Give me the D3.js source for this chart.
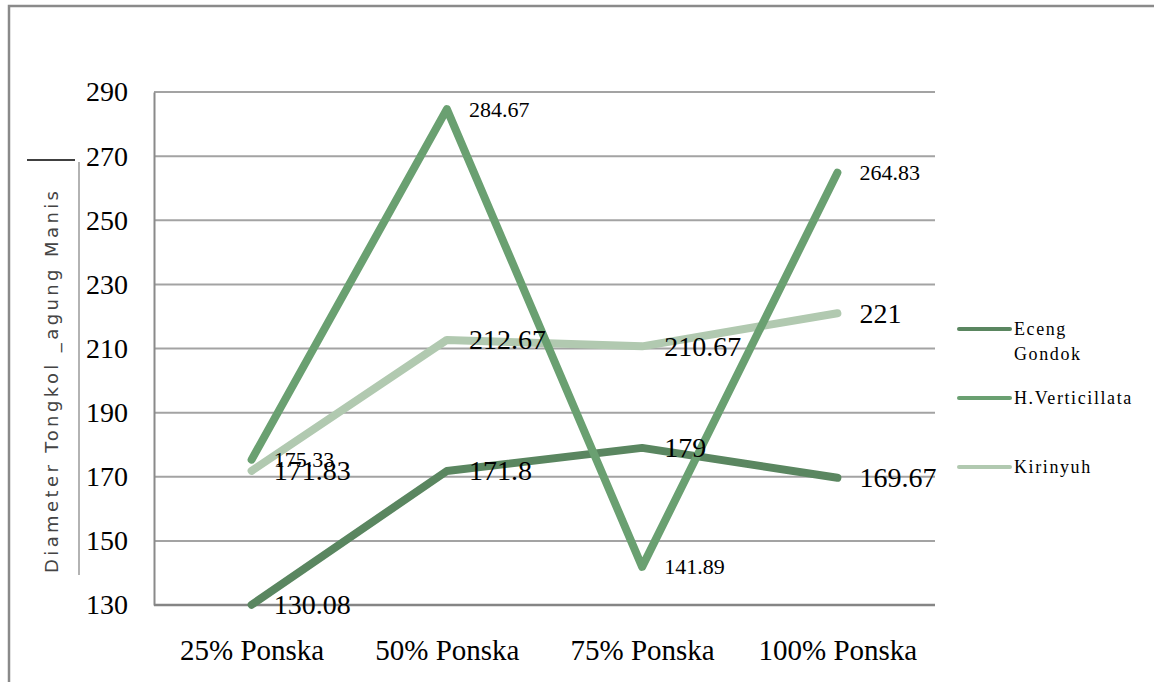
<!DOCTYPE html>
<html>
<head>
<meta charset="utf-8">
<script src="https://cdn.jsdelivr.net/npm/d3@7"></script>
<style>
  body { margin: 0; background: #fff; }
  svg { display: block; }
</style>
</head>
<body>
<div class="chartHolder"></div>
<script>
const categories = ['25% Ponska', '50% Ponska', '75% Ponska', '100% Ponska']
const seriesNames = ['Eceng Gondok', 'H.Verticillata', 'Kirinyuh']
const ecengGondok = [130.08, 171.8, 179, 169.67]
const hVerticillata = [175.33, 284.67, 141.89, 264.83]
const kirinyuh = [171.83, 212.67, 210.67, 221]
const yTicks = [130, 150, 170, 190, 210, 230, 250, 270, 290]

const render = () => {
  const width = 1154
  const height = 682
  const plot = { left: 154, right: 935, top: 92, bottom: 605 }
  const colors = { 'Eceng Gondok': '#5a8660', 'H.Verticillata': '#6aa071', 'Kirinyuh': '#b1c9b0' }
  const labelSize = { 'Eceng Gondok': 28, 'H.Verticillata': 22, 'Kirinyuh': 28 }
  const serif = '"Liberation Serif", "Times New Roman", serif'

  var series = [
    { name: 'Eceng Gondok', values: ecengGondok },
    { name: 'Kirinyuh', values: kirinyuh },
    { name: 'H.Verticillata', values: hVerticillata }
  ]

  var svg = d3.select('.chartHolder').append('svg')
    .attr('width', width)
    .attr('height', height)

  // outer frame (only top and left edges are on screen)
  svg.append('rect')
    .attr('x', 9).attr('y', 6)
    .attr('width', 1200).attr('height', 720)
    .style('fill', 'none')
    .style('stroke', '#8a8a8a')
    .style('stroke-width', 2.5)

  var xScale = d3.scalePoint()
    .domain(categories)
    .range([plot.left, plot.right])
    .padding(0.5)

  var yScale = d3.scaleLinear()
    .domain([130, 290])
    .range([plot.bottom, plot.top])

  // gridlines
  svg.append('g').selectAll('line')
    .data(yTicks.filter(d => d > 130))
    .enter()
    .append('line')
    .attr('x1', plot.left).attr('x2', plot.right)
    .attr('y1', d => yScale(d)).attr('y2', d => yScale(d))
    .style('stroke', '#a3a3a3')
    .style('stroke-width', 2)

  // y axis
  var yAxis = d3.axisLeft(yScale).tickValues(yTicks).tickSize(0).tickPadding(26)
  var yAxisGroup = svg.append('g')
    .attr('transform', `translate(${plot.left},0)`)
    .call(yAxis)
  yAxisGroup.select('.domain').style('stroke', '#8a8a8a').style('stroke-width', 2)
  yAxisGroup.selectAll('text')
    .style('font-family', serif)
    .style('font-size', '28px')
    .style('fill', '#000')

  // x axis
  var xAxis = d3.axisBottom(xScale).tickSize(0).tickPadding(34)
  var xAxisGroup = svg.append('g')
    .attr('transform', `translate(0,${plot.bottom})`)
    .call(xAxis)
  xAxisGroup.select('.domain')
    .attr('d', `M${plot.left},0H${plot.right}`)
    .style('stroke', '#858585').style('stroke-width', 2.5)
  xAxisGroup.selectAll('text')
    .style('font-family', serif)
    .style('font-size', '29px')
    .style('fill', '#000')

  // y axis title
  svg.append('line')
    .attr('x1', 27).attr('x2', 75).attr('y1', 160).attr('y2', 160)
    .style('stroke', '#000').style('stroke-width', 1.5)
  svg.append('line')
    .attr('x1', 79).attr('x2', 79).attr('y1', 162).attr('y2', 575)
    .style('stroke', '#9a9a9a').style('stroke-width', 1.5)
  svg.append('text')
    .attr('transform', 'translate(58,382) rotate(-90)')
    .attr('text-anchor', 'middle')
    .attr('textLength', 382)
    .attr('lengthAdjust', 'spacing')
    .style('font-family', '"DejaVu Sans", sans-serif')
    .style('font-size', '18px')
    .style('fill', '#444')
    .text('Diameter Tongkol _agung Manis')

  var line = d3.line()
    .x((d, i) => xScale(categories[i]))
    .y(d => yScale(d))

  svg.append('g').selectAll('path')
    .data(series)
    .enter()
    .append('path')
    .attr('d', d => line(d.values))
    .style('fill', 'none')
    .style('stroke', d => colors[d.name])
    .style('stroke-width', 8)
    .style('stroke-linecap', 'round')
    .style('stroke-linejoin', 'round')

  // data labels
  series.forEach(function(s) {
    svg.append('g').selectAll('text')
      .data(s.values)
      .enter()
      .append('text')
      .attr('x', (d, i) => xScale(categories[i]) + 22)
      .attr('y', d => yScale(d))
      .attr('dominant-baseline', 'central')
      .style('font-family', serif)
      .style('font-size', labelSize[s.name] + 'px')
      .style('fill', '#000')
      .text(d => d)
  })

  // legend
  var legendY = { 'Eceng Gondok': 329, 'H.Verticillata': 398, 'Kirinyuh': 467 }
  var legend = svg.append('g').selectAll('g')
    .data(seriesNames)
    .enter()
    .append('g')
    .attr('transform', d => `translate(959,${legendY[d]})`)
  legend.append('line')
    .attr('x1', 0).attr('x2', 51)
    .style('stroke', d => colors[d])
    .style('stroke-width', 4)
    .style('stroke-linecap', 'round')
  legend.append('text')
    .attr('x', 55)
    .style('font-family', serif)
    .style('font-size', '18px')
    .style('letter-spacing', '1.6px')
    .style('fill', '#000')
    .each(function(d) {
      var words = d === 'Eceng Gondok' ? ['Eceng', 'Gondok'] : [d]
      var t = d3.select(this)
      words.forEach(function(w, i) {
        t.append('tspan')
          .attr('x', 55)
          .attr('y', i * 25)
          .attr('dominant-baseline', 'central')
          .text(w)
      })
    })
}

render()
</script>
</body>
</html>
